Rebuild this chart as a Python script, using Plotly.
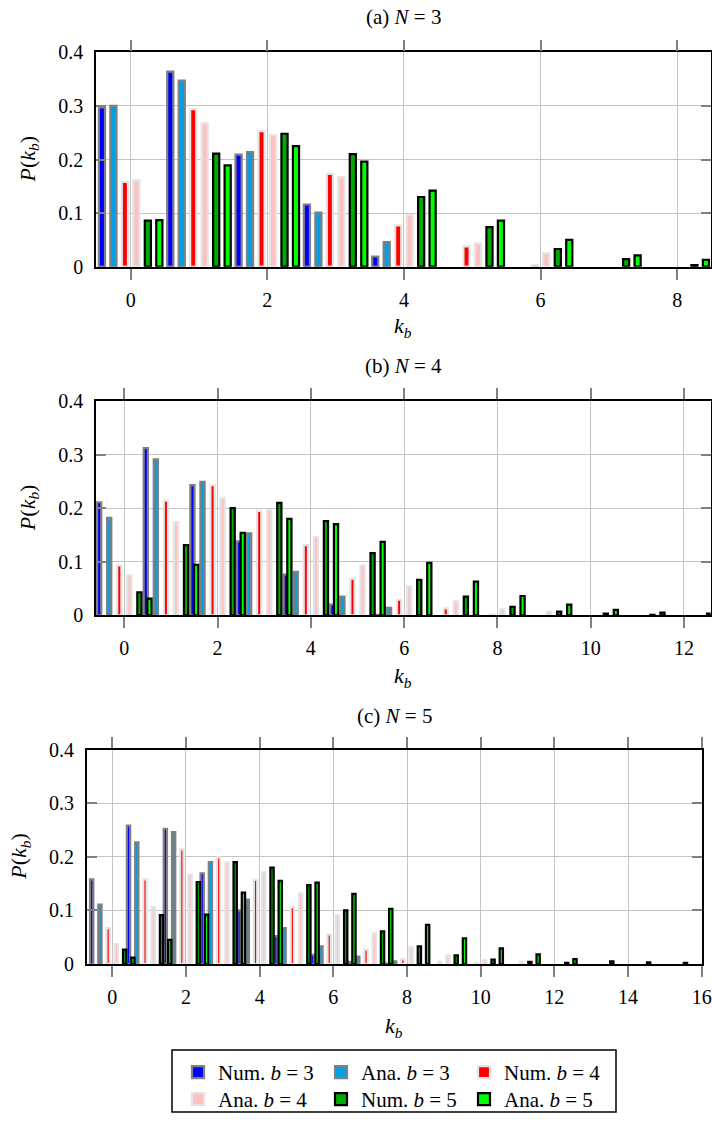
import plotly.graph_objects as go

# ---- data: P(k_b) for k_b = 0, 1, 2, ... ----
# (a) N = 3
num_b3_a = [0.297, 0.364, 0.209, 0.116, 0.019]
ana_b3_a = [0.300, 0.347, 0.214, 0.101, 0.046]
num_b4_a = [0.158, 0.294, 0.253, 0.173, 0.077, 0.038, 0.003]
ana_b4_a = [0.161, 0.268, 0.245, 0.167, 0.096, 0.043, 0.025]
num_b5_a = [0.086, 0.211, 0.248, 0.210, 0.130, 0.074, 0.033, 0.014, 0.003]
ana_b5_a = [0.087, 0.189, 0.225, 0.196, 0.142, 0.086, 0.050, 0.021, 0.013]

# (b) N = 4
num_b3_b = [0.211, 0.312, 0.243, 0.138, 0.076, 0.020, 0.001]
ana_b3_b = [0.182, 0.291, 0.249, 0.153, 0.081, 0.035, 0.014]
num_b4_b = [0.093, 0.214, 0.243, 0.195, 0.131, 0.068, 0.029, 0.013, 0.001]
ana_b4_b = [0.074, 0.174, 0.219, 0.196, 0.146, 0.093, 0.054, 0.026, 0.011, 0.007]
num_b5_b = [0.043, 0.131, 0.200, 0.210, 0.176, 0.116, 0.066, 0.035, 0.016, 0.007,
            0.003, 0.001]
ana_b5_b = [0.031, 0.094, 0.154, 0.180, 0.170, 0.137, 0.098, 0.063, 0.036, 0.020,
            0.010, 0.005, 0.003]

# (c) N = 5
num_b3_c = [0.158, 0.258, 0.252, 0.169, 0.100, 0.052, 0.017, 0.004, 0.001]
ana_b3_c = [0.111, 0.227, 0.246, 0.190, 0.120, 0.067, 0.033, 0.014, 0.005]
num_b4_c = [0.067, 0.158, 0.214, 0.199, 0.157, 0.106, 0.055, 0.027, 0.009, 0.004,
            0.001]
ana_b4_c = [0.037, 0.106, 0.167, 0.189, 0.171, 0.132, 0.091, 0.057, 0.031, 0.016,
            0.007, 0.004]
num_b5_c = [0.027, 0.091, 0.153, 0.190, 0.180, 0.147, 0.100, 0.061, 0.033, 0.016,
            0.008, 0.004, 0.002]
ana_b5_c = [0.012, 0.045, 0.092, 0.133, 0.155, 0.152, 0.131, 0.103, 0.073, 0.048,
            0.029, 0.018, 0.009, 0.005, 0.003, 0.002]

series_names = ["Num. <i>b</i> = 3", "Ana. <i>b</i> = 3",
                "Num. <i>b</i> = 4", "Ana. <i>b</i> = 4",
                "Num. <i>b</i> = 5", "Ana. <i>b</i> = 5"]
panel_titles = ["(a) <i>N</i> = 3", "(b) <i>N</i> = 4", "(c) <i>N</i> = 5"]
y_tick_vals = [0, 0.1, 0.2, 0.3, 0.4]
y_tick_text = ["0", "0.1", "0.2", "0.3", "0.4"]
x_tick_vals = [[0, 2, 4, 6, 8],
               [0, 2, 4, 6, 8, 10, 12],
               [0, 2, 4, 6, 8, 10, 12, 14, 16]]

panels = [
    [num_b3_a, ana_b3_a, num_b4_a, ana_b4_a, num_b5_a, ana_b5_a],
    [num_b3_b, ana_b3_b, num_b4_b, ana_b4_b, num_b5_b, ana_b5_b],
    [num_b3_c, ana_b3_c, num_b4_c, ana_b4_c, num_b5_c, ana_b5_c],
]

# ---- styling ----
FONT = "Liberation Serif"
fills = ["#0000ff", "#00a0e6", "#ff0000", "#ffc0c0", "#00aa00", "#00ff00"]
edges = ["#808080", "#808080", "#e4e4e4", "#e4e4e4", "#000000", "#000000"]
bar_w = 0.09
bar_spacing = [0.168, 0.2157, 0.224]      # distance between neighbouring series
x_ranges = [[-0.507, 8.49], [-0.607, 12.573], [-0.695, 16.0]]

W, H = 712, 1126
# plot areas in pixels: (left, right, top, bottom)
boxes = [(96, 710.7, 52.3, 266.7),
         (96, 710.7, 401.0, 615.3),
         (86.7, 701.7, 749.6, 964.0)]
title_y = [17, 366, 716]
xlab_y = [327, 677, 1027]
ylab_x = [29, 29, 20]

# legend: two rows of three entries inside one framed box
legend_box = (172, 616, 1050, 1112)
legend_rows = ["legend", "legend", "legend", "legend2", "legend2", "legend2"]

fig = go.Figure()

for p, series in enumerate(panels):
    xa = "x" if p == 0 else f"x{p + 1}"
    ya = "y" if p == 0 else f"y{p + 1}"
    for i, vals in enumerate(series):
        shift = (i - 2.5) * bar_spacing[p]
        fig.add_trace(go.Bar(
            x=list(range(len(vals))), y=vals,
            xaxis=xa, yaxis=ya,
            width=bar_w, offset=shift - bar_w / 2,
            marker=dict(color=fills[i], line=dict(color=edges[i], width=2.2)),
            name=series_names[i], legendgroup=series_names[i],
            legend=legend_rows[i],
            showlegend=(p == 0),
        ))

legend_common = dict(
    orientation="h", xanchor="left", yanchor="top",
    bgcolor="rgba(0,0,0,0)", borderwidth=0,
    font=dict(family=FONT, size=21, color="black"),
    entrywidth=98, entrywidthmode="pixels",
    itemwidth=30, tracegroupgap=0,
)

layout = dict(
    width=W, height=H,
    margin=dict(l=0, r=0, t=0, b=0, autoexpand=False),
    paper_bgcolor="white", plot_bgcolor="white",
    barmode="overlay",
    font=dict(family=FONT, size=20, color="black"),
    legend=dict(legend_common, x=(legend_box[0] + 6) / W,
                y=1 - (legend_box[2] + 2) / H),
    legend2=dict(legend_common, x=(legend_box[0] + 6) / W,
                 y=1 - (legend_box[2] + 29) / H),
    shapes=[dict(type="rect", xref="paper", yref="paper",
                 x0=legend_box[0] / W, x1=legend_box[1] / W,
                 y0=1 - legend_box[3] / H, y1=1 - legend_box[2] / H,
                 line=dict(color="black", width=1.5))],
    annotations=[],
)

for p in range(3):
    l, r, t, b = boxes[p]
    xkey = "xaxis" if p == 0 else f"xaxis{p + 1}"
    ykey = "yaxis" if p == 0 else f"yaxis{p + 1}"
    yname = "y" if p == 0 else f"y{p + 1}"
    xname = "x" if p == 0 else f"x{p + 1}"
    layout[xkey] = dict(
        domain=[l / W, r / W], anchor=yname, range=x_ranges[p],
        tickvals=x_tick_vals[p], ticktext=[str(v) for v in x_tick_vals[p]],
        ticks="outside", ticklen=11, tickwidth=2, tickcolor="#808080",
        showline=True, linecolor="black", linewidth=1.6, mirror="ticks",
        showgrid=True, gridcolor="#c4c4c4", gridwidth=1,
        zeroline=False, ticklabelstandoff=3,
        tickfont=dict(family=FONT, size=20),
    )
    layout[ykey] = dict(
        domain=[1 - b / H, 1 - t / H], anchor=xname, range=[0, 0.4],
        tickvals=y_tick_vals, ticktext=y_tick_text,
        ticks="inside", ticklen=10, tickwidth=2, tickcolor="#808080",
        showline=True, linecolor="black", linewidth=1.6, mirror="ticks",
        showgrid=True, gridcolor="#c4c4c4", gridwidth=1,
        zeroline=False, ticklabelstandoff=7,
        tickfont=dict(family=FONT, size=20),
    )
    cx = (l + r) / 2 / W
    layout["annotations"] += [
        dict(text=panel_titles[p], x=cx, y=1 - title_y[p] / H,
             xref="paper", yref="paper", showarrow=False,
             xanchor="center", yanchor="middle",
             font=dict(family=FONT, size=21)),
        dict(text="<i>k<sub>b</sub></i>", x=cx, y=1 - xlab_y[p] / H,
             xref="paper", yref="paper", showarrow=False,
             xanchor="center", yanchor="middle",
             font=dict(family=FONT, size=22)),
        dict(text="<i>P</i>(<i>k<sub>b</sub></i>)", x=ylab_x[p] / W,
             y=1 - (t + b) / 2 / H, textangle=-90,
             xref="paper", yref="paper", showarrow=False,
             xanchor="center", yanchor="middle",
             font=dict(family=FONT, size=22)),
    ]

fig.update_layout(**layout)
fig.write_html("out.html")
